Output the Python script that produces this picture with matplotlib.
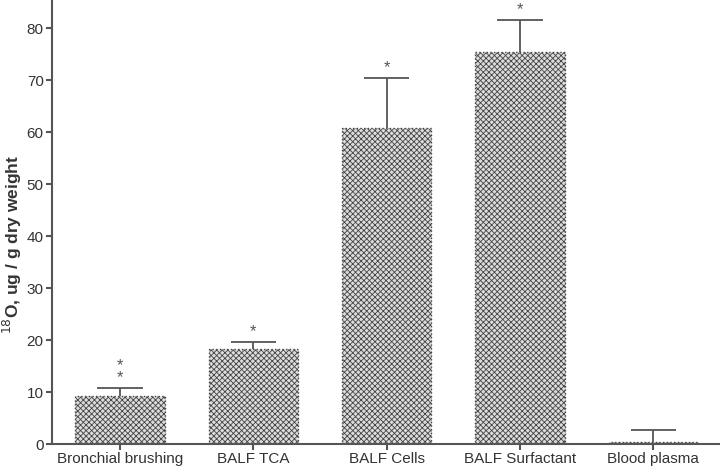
import numpy as np
import matplotlib.pyplot as plt

categories = ["Bronchial brushing", "BALF TCA", "BALF Cells", "BALF Surfactant", "Blood plasma"]
means = [9.2, 18.3, 60.8, 75.4, 0.3]
errors = [1.6, 1.3, 9.6, 6.2, 2.3]
stars = ["*\n*", "*", "*", "*", ""]

plt.rcParams['font.family'] = ['Liberation Sans', 'DejaVu Sans']
plt.rcParams['hatch.linewidth'] = 0.6
plt.rcParams['hatch.color'] = '#8a8a8a'

fig = plt.figure(figsize=(7.2, 4.66), dpi=100)
ax = fig.add_axes([52 / 720, 22 / 466, 1 - 52 / 720, 444 / 466])

x = np.arange(len(categories))
means = np.array(means)
tops = means + np.array(errors)
ax.bar(x, means, width=0.67, color='#dcdcdc', edgecolor='#444444',
       linestyle=':', linewidth=1.0, hatch='xxxxxx', zorder=2)
# upper error bars only
ax.vlines(x, means, tops, color='#555555', linewidth=1.3, zorder=3)
ax.hlines(tops, x - 0.17, x + 0.17, color='#555555', linewidth=1.3, zorder=3)

for xi, t, s in zip(x, tops, stars):
    if s:
        ax.text(xi, t + 0.5, s, ha='center', va='bottom', fontsize=12,
                color='#555555', linespacing=0.8)

ax.set_xlim(-0.51, 4.5)
ax.set_ylim(0, 85.4)
ax.set_yticks(range(0, 90, 10))
ax.set_xticks(x)
ax.set_xticklabels(categories)
ax.set_ylabel("$^{18}$O, ug / g dry weight", fontsize=12.5, fontweight='bold',
              color='#333333')
ax.yaxis.set_label_coords(-0.042, 0.45)

for side in ['top', 'right']:
    ax.spines[side].set_visible(False)
for side in ['left', 'bottom']:
    ax.spines[side].set_color('#555555')
    ax.spines[side].set_linewidth(1.5)
ax.tick_params(axis='both', colors='#555555', width=1.5, length=4, pad=2,
               labelsize=11, labelcolor='#333333')

fig.savefig("out.png", dpi=100)
